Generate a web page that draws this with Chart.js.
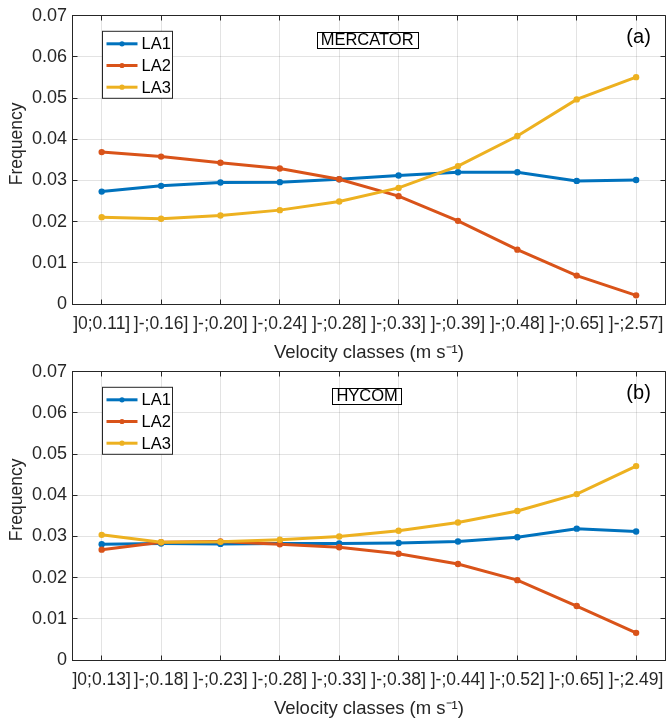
<!DOCTYPE html>
<html>
<head>
<meta charset="utf-8">
<script src="https://cdn.jsdelivr.net/npm/chart.js@4/dist/chart.umd.min.js"></script>
<style>
  html, body { margin: 0; padding: 0; background: #fff; }
  #wrap { position: relative; width: 669px; height: 721px; overflow: hidden; background: #fff; }
  #wrap canvas { position: absolute; left: 0; }
</style>
</head>
<body>
<div id="wrap">
  <canvas id="panelA" width="669" height="365" style="top:0px"></canvas>
  <canvas id="panelB" width="669" height="365" style="top:356px"></canvas>
</div>
<script>
// Velocity-class frequency distributions for three areas (LA1-LA3)
const seriesNames = ['LA1', 'LA2', 'LA3'];
const seriesColors = ['#0072BD', '#D95319', '#EDB120'];

// Panel (a): MERCATOR
const mercatorClasses = [']0;0.11]', ']-;0.16]', ']-;0.20]', ']-;0.24]', ']-;0.28]',
                         ']-;0.33]', ']-;0.39]', ']-;0.48]', ']-;0.65]', ']-;2.57]'];
const mercatorLA1 = [0.0273, 0.0287, 0.0295, 0.0296, 0.0303, 0.0312, 0.0320, 0.0320, 0.0299, 0.0301];
const mercatorLA2 = [0.0369, 0.0358, 0.0343, 0.0329, 0.0303, 0.0262, 0.0202, 0.0132, 0.0069, 0.0021];
const mercatorLA3 = [0.0211, 0.0207, 0.0215, 0.0228, 0.0249, 0.0282, 0.0335, 0.0408, 0.0497, 0.0551];

// Panel (b): HYCOM
const hycomClasses = [']0;0.13]', ']-;0.18]', ']-;0.23]', ']-;0.28]', ']-;0.33]',
                      ']-;0.38]', ']-;0.44]', ']-;0.52]', ']-;0.65]', ']-;2.49]'];
const hycomLA1 = [0.0281, 0.0283, 0.0282, 0.0283, 0.0283, 0.0284, 0.0288, 0.0298, 0.0319, 0.0312];
const hycomLA2 = [0.0268, 0.0286, 0.0288, 0.0281, 0.0274, 0.0258, 0.0233, 0.0194, 0.0131, 0.0066];
const hycomLA3 = [0.0304, 0.0286, 0.0287, 0.0292, 0.0300, 0.0314, 0.0334, 0.0362, 0.0403, 0.0471];

// Frequency axis
const yMin = 0;
const yMax = 0.07;
const yStep = 0.01;

const xTitle = 'Velocity classes (m s\u207B\u00B9)';
const yTitle = 'Frequency';

const INK = '#262626';
const GRID = 'rgba(38,38,38,0.13)';
const FONT = '"Liberation Sans", Arial, Helvetica, sans-serif';

// Closed axes box with inward tick marks on all four sides
const axesBox = {
  id: 'axesBox',
  beforeDatasetsDraw(chart) {
    const { ctx, chartArea: a, scales } = chart;
    const L = Math.round(a.left - 0.5) + 0.5;
    const R = Math.round(a.right - 0.5) + 0.5;
    const T = Math.round(a.top - 0.5) + 0.5;
    const B = Math.round(a.bottom - 0.5) + 0.5;
    const len = 5;
    ctx.save();
    ctx.strokeStyle = INK;
    ctx.lineWidth = 1;
    ctx.beginPath();
    ctx.moveTo(L, T); ctx.lineTo(R, T); ctx.lineTo(R, B);
    scales.x.ticks.forEach((t, i) => {
      const px = Math.round(scales.x.getPixelForTick(i) - 0.5) + 0.5;
      ctx.moveTo(px, B); ctx.lineTo(px, B - len);
      ctx.moveTo(px, T); ctx.lineTo(px, T + len);
    });
    scales.y.ticks.forEach((t, i) => {
      const py = Math.round(scales.y.getPixelForTick(i) - 0.5) + 0.5;
      ctx.moveTo(L, py); ctx.lineTo(L + len, py);
      ctx.moveTo(R, py); ctx.lineTo(R - len, py);
    });
    ctx.stroke();
    ctx.restore();
  }
};

// Legend box, model caption, panel tag and rotated y-axis caption
const panelDecor = {
  id: 'panelDecor',
  afterDatasetsDraw(chart, args, opts) {
    const { ctx, chartArea: a } = chart;
    ctx.save();

    // legend
    const lx = a.left + 30.5, ly = a.top + 15.5, lw = 70, lh = 67;
    ctx.fillStyle = '#fff';
    ctx.fillRect(lx, ly, lw, lh);
    ctx.strokeStyle = INK;
    ctx.lineWidth = 1;
    ctx.strokeRect(lx, ly, lw, lh);
    ctx.font = '16.5px ' + FONT;
    ctx.textBaseline = 'middle';
    ctx.textAlign = 'left';
    chart.data.datasets.forEach((ds, i) => {
      const ry = ly + 12.5 + i * 21.7;
      ctx.strokeStyle = ds.borderColor;
      ctx.lineWidth = 3;
      ctx.beginPath();
      ctx.moveTo(lx + 4, ry); ctx.lineTo(lx + 35, ry);
      ctx.stroke();
      ctx.fillStyle = ds.borderColor;
      ctx.beginPath();
      ctx.arc(lx + 19.5, ry, 2.6, 0, Math.PI * 2);
      ctx.fill();
      ctx.fillStyle = '#000';
      ctx.fillText(ds.label, lx + 39, ry + 1);
    });

    // model caption in a thin box
    ctx.font = '16.5px ' + FONT;
    const tw = ctx.measureText(opts.caption).width;
    const cx = a.left + (a.right - a.left) * 0.497;
    const cy = a.top + 24;
    const bx = Math.round(cx - tw / 2 - 4) + 0.5;
    const bw = Math.round(tw + 8);
    ctx.fillStyle = '#fff';
    ctx.fillRect(bx, Math.round(cy - 8) + 0.5, bw, 16);
    ctx.strokeStyle = '#000';
    ctx.lineWidth = 1;
    ctx.strokeRect(bx, Math.round(cy - 8) + 0.5, bw, 16);
    ctx.fillStyle = '#000';
    ctx.textAlign = 'center';
    ctx.fillText(opts.caption, cx, cy + 1);

    // panel tag
    ctx.font = '20px ' + FONT;
    ctx.textAlign = 'right';
    ctx.fillText(opts.tag, a.right - 15, a.top + 22);

    // y-axis caption
    ctx.translate(17, (a.top + a.bottom) / 2 - 16);
    ctx.rotate(-Math.PI / 2);
    ctx.font = '17.5px ' + FONT;
    ctx.fillStyle = INK;
    ctx.textAlign = 'center';
    ctx.fillText(yTitle, 0, 0);
    ctx.restore();
  }
};

function buildPanel(canvasId, classes, la1, la2, la3, caption, tag) {
  const values = [la1, la2, la3];
  const datasets = seriesNames.map((name, i) => ({
    label: name,
    data: values[i],
    borderColor: seriesColors[i],
    backgroundColor: seriesColors[i],
    borderWidth: 3,
    pointRadius: 3.2,
    pointHoverRadius: 3.2,
    pointBorderWidth: 0,
    tension: 0,
    order: 3 - i
  }));

  return new Chart(document.getElementById(canvasId), {
    type: 'line',
    data: { labels: classes, datasets },
    plugins: [axesBox, panelDecor],
    options: {
      responsive: false,
      animation: false,
      devicePixelRatio: 1,
      layout: { padding: { left: 0, right: 1, top: 15, bottom: 0 } },
      plugins: {
        legend: { display: false },
        tooltip: { enabled: false },
        panelDecor: { caption, tag }
      },
      scales: {
        x: {
          type: 'category',
          offset: true,
          grid: { color: GRID, lineWidth: 1, drawTicks: false, offset: false },
          border: { display: true, color: INK, width: 1 },
          ticks: {
            autoSkip: false, maxRotation: 0, minRotation: 0,
            padding: 10, color: INK,
            font: { family: FONT, size: 17.5 }
          },
          title: {
            display: true, text: xTitle, color: INK,
            font: { family: FONT, size: 18.5 },
            padding: { top: 0, bottom: 1 }
          },
          afterFit(scale) {
            scale.height = 61;
            scale.paddingLeft = 0;
            scale.paddingRight = 0;
          }
        },
        y: {
          min: yMin, max: yMax,
          grid: { color: GRID, lineWidth: 1, drawTicks: false },
          border: { display: true, color: INK, width: 1 },
          ticks: {
            stepSize: yStep, padding: 5, color: INK,
            font: { family: FONT, size: 18 },
            callback: v => (Math.abs(v) < 1e-9 ? '0' : v.toFixed(2))
          },
          afterFit(scale) { scale.width = 72; }
        }
      }
    }
  });
}

buildPanel('panelA', mercatorClasses, mercatorLA1, mercatorLA2, mercatorLA3, 'MERCATOR', '(a)');
buildPanel('panelB', hycomClasses, hycomLA1, hycomLA2, hycomLA3, 'HYCOM', '(b)');
</script>
</body>
</html>
